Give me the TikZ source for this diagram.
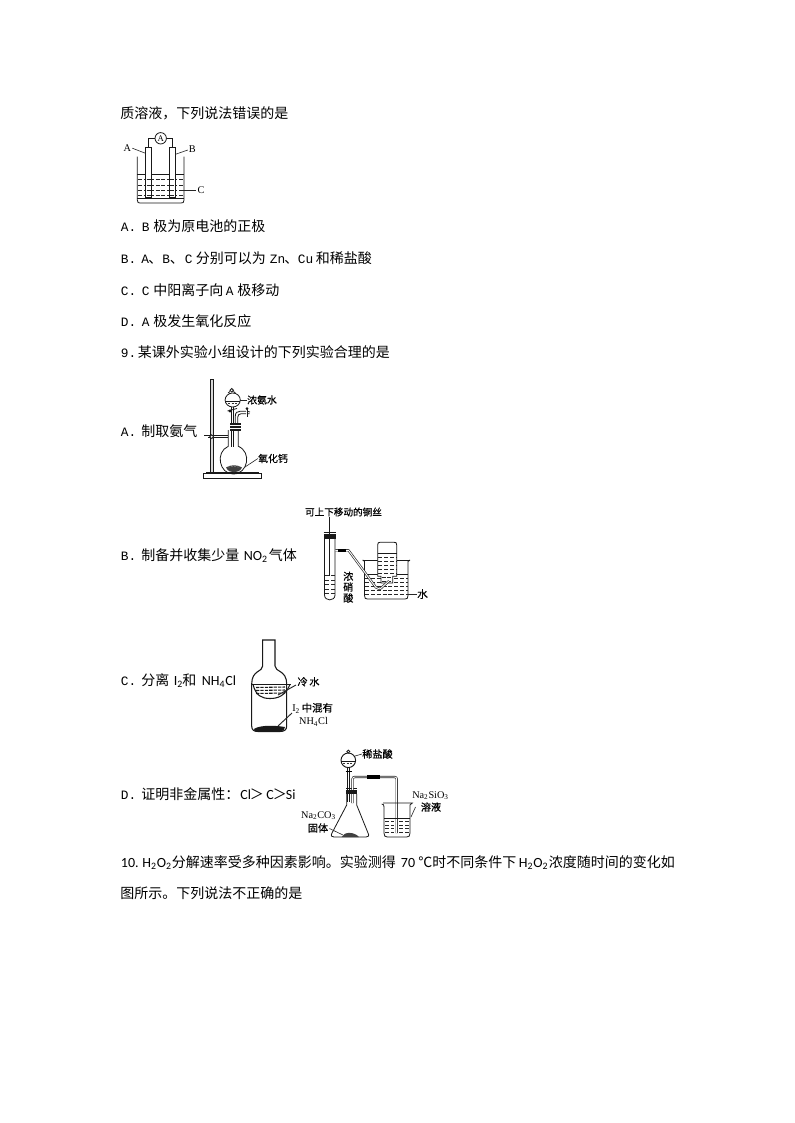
\documentclass[tikz,border=0pt]{standalone}
\usepackage{fontspec}
\setmainfont{Carlito}
\newfontfamily\cjk{Noto Sans CJK SC}
\newfontfamily\cjkm[FakeBold=0.5]{Noto Sans CJK SC}
\newfontfamily\ser{Liberation Serif}
\newfontfamily\monof{Liberation Mono}
\newcommand{\zh}[1]{{\cjk #1}}
\newcommand{\la}[1]{{\monof\fontsize{9.6pt}{10pt}\selectfont #1}}
\newcommand{\sbs}[1]{\textsubscript{#1}}
% place a piece of a text line at an absolute x (in reference pixels; the line starts at 120)
\newcommand{\tx}[2]{\rlap{\hspace{\dimexpr(#1pt-120pt)*3/4\relax}#2}}
\tikzset{
  bodytext/.style={anchor=base west,inner sep=0pt,font=\fontsize{10.5pt}{12pt}\selectfont},
  smalllab/.style={inner sep=0pt,font=\fontsize{7.4pt}{8pt}\selectfont\cjkm},
  serlab/.style={inner sep=0pt,font=\fontsize{7.7pt}{8pt}\selectfont\ser},
  glass/.style={draw=black!90,line width=0.6pt},
  leader/.style={draw=black!85,line width=0.45pt},
  dashliq/.style={draw=black!85,line width=0.55pt,dash pattern=on 3pt off 1.4pt},
  solidblack/.style={fill=black!90,draw=none},
  doubletube/.style={draw=black!85,line width=1.7pt,postaction={draw=white,line width=0.7pt}}
}
\begin{document}
\begin{tikzpicture}[x=0.75pt,y=-0.75pt]
\useasboundingbox (0,0) rectangle (794,1123);
\fill[white] (0,0) rectangle (794,1123);
% ---- body text
\node[bodytext] (t1) at (120,119) {\zh{质溶液，下列说法错误的是}};
\node[bodytext] (t2) at (120,232) {\tx{120}{\la{A.}}\tx{141}{\la{B}}\tx{152.5}{\zh{极为原电池的正极}}\strut};
\node[bodytext] (t3) at (120,263) {\tx{120}{\la{B.}}\tx{140.5}{\la{A}}\tx{147.5}{\zh{、}}\tx{161.5}{\la{B}}\tx{169}{\zh{、}}\tx{184}{\la{C}}\tx{195}{\zh{分别可以为}}\tx{269}{\la{Zn}}\tx{283.5}{\zh{、}}\tx{297}{\la{Cu}}\tx{315}{\zh{和稀盐酸}}\strut};
\node[bodytext] (t4) at (120,295) {\tx{120}{\la{C.}}\tx{141}{\la{C}}\tx{152.5}{\zh{中阳离子向}}\tx{225}{\la{A}}\tx{236.5}{\zh{极移动}}\strut};
\node[bodytext] (t5) at (120,326) {\tx{120}{\la{D.}}\tx{141}{\la{A}}\tx{152.5}{\zh{极发生氧化反应}}\strut};
\node[bodytext] (t6) at (120,357) {\tx{120}{\la{9.}}\tx{137}{\zh{某课外实验小组设计的下列实验合理的是}}\strut};
\node[bodytext] (t7) at (120,436) {\tx{120}{\la{A.}}\tx{140.5}{\zh{制取氨气}}\strut};
\node[bodytext] (t8) at (120,560) {\tx{120}{\la{B.}}\tx{140.5}{\zh{制备并收集少量}}\tx{243}{NO\sbs{2}}\tx{268}{\zh{气体}}\strut};
\node[bodytext] (t9) at (120,685) {\tx{120}{\la{C.}}\tx{140.5}{\zh{分离}}\tx{173}{I\sbs{2}}\tx{181.5}{\zh{和}}\tx{201}{NH\sbs{4}Cl}\strut};
\node[bodytext] (t10) at (120,799) {\tx{120}{\la{D.}}\tx{140.5}{\zh{证明非金属性：}}\tx{239.5}{Cl}\tx{249}{\zh{＞}}\tx{265.5}{C}\tx{272}{\zh{＞}}\tx{285}{Si}\strut};
\node[bodytext] (t11) at (120,867) {\tx{120}{10.}\tx{141.5}{H\sbs{2}O\sbs{2}}\tx{171}{\zh{分解速率受多种因素影响。实验测得}}\tx{400}{70}\tx{417.5}{\zh{℃时不同条件下}}\tx{518}{H\sbs{2}O\sbs{2}}\tx{548}{\zh{浓度随时间的变化如}}\strut};
\node[bodytext] (t12) at (120,898) {\zh{图所示。下列说法不正确的是}};

% ---- figure 1: galvanic cell
\draw[glass] (137.3,156.7) -- (137.3,200) .. controls (137.3,202.7) and (138.5,203) .. (140,203) -- (181,203) .. controls (183,203) and (184,202.7) .. (184,200) -- (184,156.7);
\draw[glass] (137.3,174.3) -- (184,174.3);
\draw[glass] (137.3,198.5) -- (184,198.5);
\foreach \yy in {179.5,185,190.5,195} \draw[dashliq] (138,\yy) -- (183.5,\yy);
\filldraw[glass,fill=white] (145.7,147) rectangle (151,197);
\filldraw[glass,fill=white] (169.3,147) rectangle (175,197);
\foreach \yy in {179.5,185,190.5,195} {\draw[dashliq] (146.5,\yy) -- (150.5,\yy); \draw[dashliq] (170,\yy) -- (174.5,\yy);}
\node[circle,draw=black!90,line width=0.6pt,minimum size=11.4*0.75pt,inner sep=0pt,font=\fontsize{6.5pt}{7pt}\selectfont\ser] (amm) at (160.7,138.3) {A};
\coordinate (ltop) at (148.3,147);
\coordinate (rtop) at (172.2,147);
\draw[glass] (ltop) |- (amm.west);
\draw[glass] (rtop) |- (amm.east);
\node[serlab] (labA) at (127.3,147.7) {A};
\node[serlab] (labB) at (192.3,149) {B};
\node[serlab] (labC) at (201,190) {C};
\coordinate (aE) at (145.5,153.3);
\coordinate (bE) at (175.5,154.3);
\coordinate (cE) at (182.7,190);
\draw[leader] (labA) ++(5,0.5) -- (aE);
\draw[leader] (labB) ++(-4.5,1) -- (bE);
\draw[leader] (labC) ++(-5,0) -- (cE);

% ---- figure 2: ammonia generator
\filldraw[glass,fill=black!15] (210,379) rectangle (213.3,472);
\filldraw[glass,fill=white] (203.3,473.5) rectangle (261,478.3);
\draw[glass] (206,473.5) -- (206,472) -- (258,472) -- (258,473.5);
\draw[glass] (204,435.8) -- (228.3,435.8);
\draw[glass] (208,437.6) -- (228.3,437.6);
\filldraw[glass,fill=white] (211.7,436.7) circle (1.9);
% flask
\draw[glass] (228.3,430) -- (228.3,446.3) .. controls (215,452) and (219,474) .. (233.3,474) .. controls (248,474) and (252,452) .. (238.3,446.3) -- (238.3,430);
\fill[black!75] (226,467.5) .. controls (231,464.5) and (237,464.5) .. (242,467.5) .. controls (239,474) and (229,474) .. (226,467.5) -- cycle;
\foreach \xx/\yy in {229/467,232/466.5,235/466.5,238/467} \fill[white] (\xx,\yy) circle (0.45);
% stopper
\fill[black!90] (229.5,423.3) rectangle (240.7,430.7);
\draw[white,line width=0.4pt] (229.5,425.4) -- (240.7,425.4);
\draw[white,line width=0.4pt] (229.5,427.8) -- (240.7,427.8);
% funnel
\draw[glass] (232.7,400) ellipse (7.6 and 7);
\draw[glass] (226,401) -- (239.5,401);
\foreach \xx in {228,231.5,235} \draw[black!80,line width=0.4pt] (\xx,403) -- (\xx+2.2,403);
\filldraw[glass,fill=white] (231.7,390.3) circle (1.8);
\draw[glass] (228,393) -- (230,391.5) (235.5,393) -- (233.4,391.5);
\draw[glass] (231.6,407) -- (231.6,423);
\draw[glass] (233.6,407) -- (233.6,423);
\draw[glass] (231.6,430) -- (231.6,447);
\draw[glass] (233.6,430) -- (233.6,447);
\draw[glass] (227.5,411) -- (237,408.5);
\filldraw[glass,fill=white] (230,411) circle (1);
% side tube with stopcock
\draw[glass] (235.3,423) -- (235.3,416) .. controls (235.3,412.5) and (237.5,411.3) .. (240,411.3) -- (246,411.3);
\draw[glass] (237.8,423) -- (237.8,417) .. controls (237.8,415) and (239,413.8) .. (241,413.8) -- (246,413.8);
\draw[glass] (247,409) -- (247,416.5);
\draw[glass] (248,411.5) -- (250,412) (248,413.8) -- (249.5,413.8);
\filldraw[glass,fill=white] (247,408.7) circle (0.9);
\node[smalllab] (nh3) at (262,400) {浓氨水};
\coordinate (fun) at (240.2,400);
\draw[leader] (fun) -- (nh3.west);
\node[smalllab] (cao) at (273,458.5) {氧化钙};
\coordinate (caoS) at (245,467);
\draw[leader] (caoS) -- (cao.west);

% ---- figure 3: NO2
\node[smalllab,font=\fontsize{7.2pt}{8pt}\selectfont\cjkm] (cu) at (343.5,512) {可上下移动的铜丝};
\draw[glass,line width=0.8pt] (329.3,517) -- (329.3,576);
\draw[glass] (324.5,538) -- (324.5,595) .. controls (324.5,601.5) and (335,601.5) .. (335,595) -- (335,538);
\fill[black!90] (324,533.5) rectangle (335.5,538.5);
\draw[glass] (323.5,532.8) -- (336,532.8);
\foreach \yy in {575.5,580,584.5,589,593.5} \draw[dashliq] (325,\yy) -- (334.5,\yy);
\node[smalllab,font=\fontsize{7.6pt}{8pt}\selectfont\cjkm] (hn1) at (348.3,576.3) {浓};
\node[smalllab,font=\fontsize{7.6pt}{8pt}\selectfont\cjkm] (hn2) at (348.3,587) {硝};
\node[smalllab,font=\fontsize{7.6pt}{8pt}\selectfont\cjkm] (hn3) at (348.3,598) {酸};
% beaker
\draw[glass] (362.7,560) -- (364.5,561.5) -- (364.5,595.5) .. controls (364.5,598.5) and (365.5,599) .. (367.5,599) -- (405,599) .. controls (407,599) and (408,598.5) .. (408,595.5) -- (408,561.5) -- (410,560);
\draw[glass] (362.7,560) -- (377.7,560) (396.7,560) -- (410,560);
\draw[glass] (364.5,574) -- (381,574) (392.7,574) -- (408,574);
\foreach \yy in {578,582,586,590,594} \draw[dashliq] (365,\yy) -- (407.5,\yy);
% cylinder
\filldraw[glass,fill=white] (377.7,576.3) -- (377.7,545) .. controls (377.7,542.5) and (378.5,542.3) .. (380,542.3) -- (394,542.3) .. controls (396,542.3) and (396.7,542.5) .. (396.7,545) -- (396.7,576.3) -- (392.7,576.3) -- (392.7,583) -- (381,583) -- (381,576.3) -- cycle;
\draw[glass] (377.7,553) -- (396.7,553);
\foreach \yy in {557,561,565,569,573} \draw[dashliq] (378.3,\yy) -- (396.2,\yy);
\foreach \yy in {577,581} \draw[dashliq] (381.5,\yy) -- (392.3,\yy);
% delivery tube
\coordinate (tbA) at (335.3,550.3);
\coordinate (tbB) at (348.5,550.3);
\coordinate (tbC) at (376,587.5);
\coordinate (tbD) at (380,589);
\coordinate (tbE) at (389,581);
\draw[doubletube,line join=round] (tbA) -- (tbB) -- (tbC) -- (tbD) -- (tbE);
\draw[black,line width=2.6pt] (338,550.3) -- (346,550.3);
\node[smalllab,font=\fontsize{8pt}{8pt}\selectfont\cjkm] (water) at (422.5,594) {水};
\coordinate (wE) at (408,594);
\draw[leader] (wE) -- (water.west);

% ---- figure 4: sublimation
\draw[glass,line width=0.8pt] (262.7,640) -- (262.7,666) .. controls (262.7,672) and (251.7,670) .. (251.7,684) -- (251.7,726) .. controls (251.7,730) and (254,731.5) .. (258,731.5) -- (280,731.5) .. controls (284,731.5) and (286.7,730) .. (286.7,726) -- (286.7,684) .. controls (286.7,670) and (275,672) .. (275,666) -- (275,640) -- cycle;
\draw[glass,line width=0.9pt] (252,684.5) -- (291,684.5);
\draw[glass,line width=0.8pt] (253,684.5) .. controls (256,696) and (262,698.5) .. (270,698.5) .. controls (278,698.5) and (285,696) .. (290,684.5);
\foreach \yy in {687.5,690.5,693.5} \draw[black!90,line width=0.8pt,dash pattern=on 2.5pt off 0.8pt] (256,\yy) -- (285,\yy-0.5);
\fill[solidblack] (254,729) .. controls (258,726) and (270,724.5) .. (285,727) .. controls (285,730) and (283,731.5) .. (280,731.5) -- (258,731.5) .. controls (255,731.5) and (254,730.5) .. (254,729) -- cycle;
\node[smalllab,font=\fontsize{7.6pt}{8pt}\selectfont\cjkm] (cold) at (308.5,681.7) {冷\,水};
\coordinate (coldS) at (278,695);
\draw[leader,line width=0.7pt] (coldS) -- (296,685);
\node[smalllab,font=\fontsize{7.8pt}{8pt}\selectfont\ser,anchor=west] (i2) at (292,708) {I\sbs{2}\,{\cjkm 中混有}};
\node[serlab,font=\fontsize{7.7pt}{8pt}\selectfont\ser] (nh4) at (313.5,722) {NH\sbs{4}Cl};
\coordinate (solS) at (278,726);
\draw[leader,line width=0.7pt] (solS) -- (292,713);

% ---- figure 5: Na2CO3
\draw[glass] (346.7,794) -- (346.7,805) -- (332,833) .. controls (330.5,836) and (331.5,837) .. (334,837) -- (366,837) .. controls (368.5,837) and (369.5,836) .. (368,833) -- (356.7,805) -- (356.7,794);
\fill[black!75] (341.5,837) .. controls (344,831.5) and (354,831.5) .. (359,837) -- cycle;
\draw[glass] (346,788.5) -- (357,788.5);
% funnel
\draw[glass,line width=0.7pt] (348.3,760.3) ellipse (7.3 and 7.3);
\draw[glass] (341.2,761) -- (355.4,761);
\foreach \xx in {343,346.5,350} \draw[black!80,line width=0.4pt] (\xx,763.5) -- (\xx+2,763.5);
\filldraw[glass,fill=white] (348.3,751.6) circle (1.5);
\draw[glass] (347.5,767.6) -- (347.5,802);
\draw[glass] (349.5,767.6) -- (349.5,802);
\draw[black,line width=0.9pt] (345.5,771.5) -- (351.5,771.5);
% delivery
\coordinate (d1) at (352.6,803);
\coordinate (d2) at (352.6,777);
\coordinate (d3) at (396.7,777);
\coordinate (d4) at (396.7,833);
\draw[doubletube,rounded corners=1.5pt] (d1) -- (d2) -- (d3) -- (d4);
\draw[black,line width=2.4pt] (367,777) -- (380,777);
\fill[black!90] (346,790) rectangle (357,794);
% beaker
\draw[glass] (381.7,804) .. controls (383.5,804) and (384,805) .. (384,807) -- (384,833) .. controls (384,836) and (385,837) .. (387.5,837) -- (406.5,837) .. controls (409,837) and (410,836) .. (410,833) -- (410,805) -- (412.3,803) -- (383,803);
\draw[glass] (384,818.7) -- (410,818.7);
\foreach \yy in {821.5,825,828.5,832} {\draw[dashliq] (385,\yy) -- (394,\yy); \draw[dashliq] (399,\yy) -- (409,\yy);}
\node[smalllab,font=\fontsize{7.6pt}{8pt}\selectfont\cjkm] (hcl) at (377.5,754) {稀盐酸};
\coordinate (fE) at (355,756);
\draw[leader] (fE) -- (hcl.west);
\node[serlab] (nasi) at (430.5,795.3) {Na\sbs{2}SiO\sbs{3}};
\node[smalllab,font=\fontsize{7.6pt}{8pt}\selectfont\cjkm] (rong) at (431,807) {溶液};
\coordinate (bkE) at (411,817);
\draw[leader] (bkE) -- (415.5,807);
\node[serlab] (naco) at (318.5,815.3) {Na\sbs{2}CO\sbs{3}};
\node[smalllab,font=\fontsize{7.6pt}{8pt}\selectfont\cjkm] (guti) at (318,828) {固体};
\coordinate (soE) at (343,835);
\draw[leader] (guti.east) ++(1,0.5) -- (soE);
\end{tikzpicture}
\end{document}
